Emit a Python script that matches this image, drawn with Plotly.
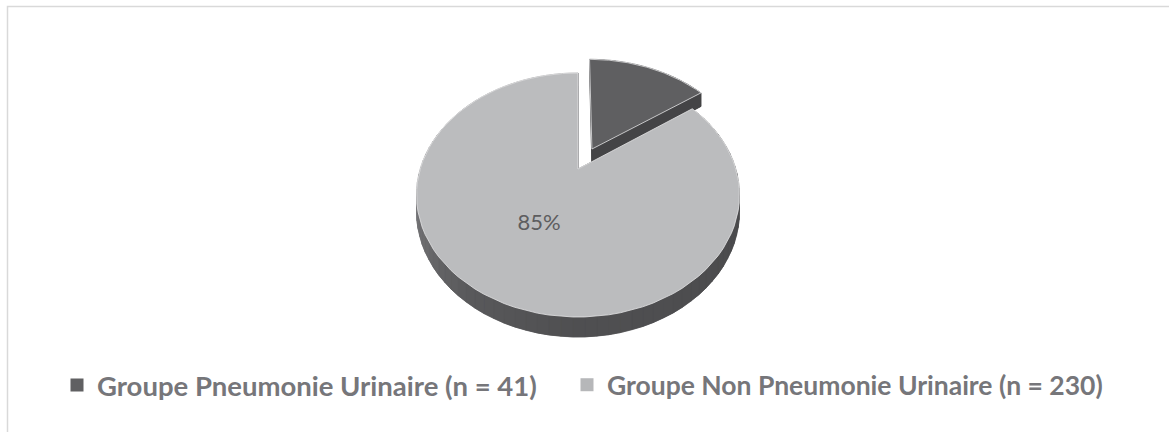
import numpy as np
import plotly.graph_objects as go

# ---- data ----
categories = ["Groupe Pneumonie Urinaire (n = 41)", "Groupe Non Pneumonie Urinaire (n = 230)"]
counts = [41, 230]
top_colors = ["#5f5f61", "#bbbcbe"]
legend_colors = ["#606062", "#b6b7b9"]
explode = [0.2, 0.0]
show_label = [False, True]

# ---- 3D pie projection (screen-pixel space) ----
CX, CY = 578.0, 169.0
A, B, K, H = 116.5, 157.8, 0.2131, 15.7
W, HGT = 1169, 432


def proj(u, v, z):
    den = 1 - K * v
    return CX + B * u / den, CY + (A * v + H * z) / den


def wall_color(theta, dark):
    if dark:
        return "#454547"
    stops_t = [0, 90, 180, 215, 255, 300, 360]
    stops_c = [0x80, 0x4a, 0x50, 0x5a, 0x76, 0x88, 0x80]
    g = int(np.interp(theta % 360, stops_t, stops_c))
    return "#%02x%02x%02x" % (g, g, g + 2)


fig = go.Figure()
total = sum(counts)
angles = np.cumsum([0] + [c / total * 360 for c in counts])


def poly(xs, ys, color, line_color=None, lw=0.6):
    fig.add_trace(go.Scatter(
        x=list(xs) + [xs[0]], y=list(ys) + [ys[0]], mode="lines", fill="toself",
        fillcolor=color, line=dict(color=line_color or color, width=lw),
        hoverinfo="skip", showlegend=False))


for i, c in enumerate(counts):
    t1, t2 = angles[i], angles[i + 1]
    tm = np.radians((t1 + t2) / 2)
    ou, ov = explode[i] * np.sin(tm), -explode[i] * np.cos(tm)
    th = np.linspace(t1, t2, 90)
    u = ou + np.sin(np.radians(th))
    v = ov - np.cos(np.radians(th))
    dark = i == 0
    # bottom face
    bx, by = proj(u, v, 1)
    ax1, ay1 = proj(ou, ov, 1)
    poly([ax1] + list(bx), [ay1] + list(by), wall_color(180, dark))
    # outer wall
    tx, ty = proj(u, v, 0)
    for j in range(len(th) - 1):
        col = wall_color((th[j] + th[j + 1]) / 2, dark)
        poly([tx[j], tx[j + 1], bx[j + 1], bx[j]], [ty[j], ty[j + 1], by[j + 1], by[j]], col)
    # radial walls
    ax0, ay0 = proj(ou, ov, 0)
    for k in (0, -1):
        poly([ax0, tx[k], bx[k], ax1], [ay0, ty[k], by[k], ay1], "#444446")
    # top face
    poly([ax0] + list(tx), [ay0] + list(ty), top_colors[i], line_color="#e4e4e6", lw=0.8)
    # data label
    if show_label[i]:
        r = 0.49
        lx, ly = proj(ou + r * np.sin(tm), ov - r * np.cos(tm), 0)
        fig.add_trace(go.Scatter(
            x=[lx], y=[ly], mode="text", text=[f"{round(c / total * 100)}%"],
            textfont=dict(family="Lato", size=22, color="#5d5d5f"),
            hoverinfo="skip", showlegend=False))

# legend entries (one legend box per entry, placed like the original)
legend_names = ["legend", "legend2"]
for i, name in enumerate(categories):
    fig.add_trace(go.Scatter(
        x=[None], y=[None], mode="markers", name=name, legend=legend_names[i],
        marker=dict(symbol="square", size=13, color=legend_colors[i])))

leg_y = 1 - 385 / HGT
fig.update_layout(
    width=W, height=HGT,
    margin=dict(l=0, r=0, t=0, b=0),
    paper_bgcolor="white", plot_bgcolor="white",
    xaxis=dict(range=[0, W], visible=False, fixedrange=True),
    yaxis=dict(range=[HGT, 0], visible=False, fixedrange=True),
    showlegend=True,
    legend=dict(orientation="h", x=57 / W, xanchor="left", y=leg_y, yanchor="middle",
                font=dict(family="Lato", size=27.5, color="#76767a", weight="bold"),
                itemclick=False, itemdoubleclick=False),
    legend2=dict(orientation="h", x=567 / W, xanchor="left", y=leg_y, yanchor="middle",
                 font=dict(family="Lato", size=26.5, color="#76767a", weight="bold"),
                 itemclick=False, itemdoubleclick=False),
    shapes=[dict(type="rect", xref="x", yref="y", x0=7.5, y0=6.5, x1=1200, y1=460,
                 line=dict(color="#d9d9d9", width=1.5), fillcolor="rgba(0,0,0,0)", layer="below")],
)

fig.write_html("out.html", config={"displayModeBar": False, "staticPlot": True},
               post_script="document.body.style.margin='0';")
